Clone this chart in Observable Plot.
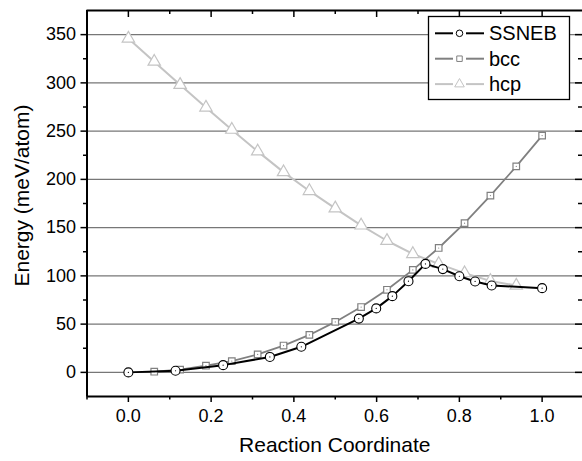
<!DOCTYPE html>
<html>
<head>
<meta charset="utf-8">
<script src="https://cdn.jsdelivr.net/npm/d3@7"></script>
<script src="https://cdn.jsdelivr.net/npm/@observablehq/plot@0.6"></script>
<style>
  html, body { margin: 0; padding: 0; background: #fff; }
  #chart { position: relative; width: 582px; height: 461px; }
</style>
</head>
<body>
<div id="chart"></div>
<script>
// ---- data ----
const ssnebX = [0, 0.114, 0.229, 0.342, 0.418, 0.557, 0.599, 0.638, 0.677, 0.718, 0.76, 0.80, 0.838, 0.878, 1.0];
const ssnebY = [0, 1.7, 7.5, 16, 26.5, 55.7, 66.3, 79, 94.5, 112.4, 107, 99.6, 94.2, 90, 87.3];

const bccX = [0.0625, 0.125, 0.1875, 0.25, 0.3125, 0.375, 0.4375, 0.5, 0.5625, 0.625, 0.6875, 0.75, 0.8125, 0.875, 0.9375, 1.0];
const bccY = [0.7, 2.8, 6.9, 11.7, 18.6, 27.8, 38.8, 52.3, 67.7, 85.6, 106.2, 128.9, 154.6, 183.2, 213.4, 245.4];

const hcpX = [0, 0.0625, 0.125, 0.1875, 0.25, 0.3125, 0.375, 0.4375, 0.5, 0.5625, 0.625, 0.6875, 0.75, 0.8125, 0.875, 0.9375];
const hcpY = [346, 322, 298, 274.5, 251.5, 229, 207.5, 188, 170, 152.3, 136.4, 122.7, 112.4, 102.8, 94.8, 90];

const seriesNames = ["SSNEB", "bcc", "hcp"];
const yTicks = [0, 50, 100, 150, 200, 250, 300, 350];
const yMinorTicks = [25, 75, 125, 175, 225, 275, 325];
const xTicks = [0.0, 0.2, 0.4, 0.6, 0.8, 1.0];
const xMinorTicks = [-0.1, 0.1, 0.3, 0.5, 0.7, 0.9, 1.1];
const xLabel = "Reaction Coordinate";
const yLabel = "Energy (meV/atom)";

// ---- build tables ----
const toRows = (xs, ys) => xs.map((x, i) => ({x, y: ys[i]}));
const ssneb = toRows(ssnebX, ssnebY);
const bcc = toRows(bccX, bccY);
const hcp = toRows(hcpX, hcpY);

const colors = {SSNEB: "#000000", bcc: "#808080", hcp: "#c4c4c4"};
const W = 582, H = 461, mL = 86.5, mR = 0, mT = 10, mB = 65;
const fw = W - mL - mR, fh = H - mT - mB;
const font = "'Liberation Sans', Arial, sans-serif";

const chart = Plot.plot({
  width: W, height: H,
  marginLeft: mL, marginRight: mR, marginTop: mT, marginBottom: mB,
  x: {domain: [-0.1, 1.1], range: [mL, 583]},
  y: {domain: [-25, 375]},
  style: {fontFamily: font, fontSize: "18px", color: "#000", background: "#fff", overflow: "visible"},
  marks: [
    Plot.ruleY(yTicks, {stroke: "#777", strokeWidth: 1.4}),
    // outward left ticks & labels
    Plot.axisY({ticks: yTicks, tickSize: 6, tickPadding: 5, fontSize: 18, label: null, strokeWidth: 1.5}),
    Plot.axisY({ticks: yMinorTicks, tickSize: 3.5, tickFormat: () => "", label: null, strokeWidth: 1.5}),
    // outward bottom ticks & labels
    Plot.axisX({ticks: xTicks, tickSize: 6, tickPadding: 7, fontSize: 18, tickFormat: d3.format(".1f"), label: null, strokeWidth: 1.5}),
    Plot.axisX({ticks: xMinorTicks, tickSize: 3.5, tickFormat: () => "", label: null, strokeWidth: 1.5}),
    // inward right ticks
    Plot.tickY(yTicks, {y: d => d, insetLeft: fw - 7, stroke: "#000", strokeWidth: 1.5}),
    Plot.tickY(yMinorTicks, {y: d => d, insetLeft: fw - 4, stroke: "#000", strokeWidth: 1.5}),
    // inward top ticks
    Plot.tickX(xTicks, {x: d => d, insetBottom: fh - 7, stroke: "#000", strokeWidth: 1.5}),
    Plot.tickX(xMinorTicks, {x: d => d, insetBottom: fh - 4, stroke: "#000", strokeWidth: 1.5}),
    // frame
    Plot.ruleX([-0.1], {stroke: "#000", strokeWidth: 2}),
    Plot.ruleY([-25, 375], {stroke: "#000", strokeWidth: 2}),
    // hcp
    Plot.line(hcp, {x: "x", y: "y", stroke: colors.hcp, strokeWidth: 2}),
    Plot.dot(hcp, {x: "x", y: "y", symbol: "triangle", r: 4.6, fill: "#fff", stroke: colors.hcp, strokeWidth: 1.2}),
    // bcc
    Plot.line(bcc, {x: "x", y: "y", stroke: colors.bcc, strokeWidth: 1.8}),
    Plot.dot(bcc, {x: "x", y: "y", symbol: "square", r: 3.7, fill: "#fff", stroke: colors.bcc, strokeWidth: 1.2}),
    Plot.dot(bcc, {x: "x", y: "y", r: 0.6, fill: colors.bcc, stroke: null}),
    // SSNEB
    Plot.line(ssneb, {x: "x", y: "y", stroke: colors.SSNEB, strokeWidth: 2}),
    Plot.dot(ssneb, {x: "x", y: "y", symbol: "circle", r: 4.5, fill: "#fff", stroke: colors.SSNEB, strokeWidth: 1.1}),
    Plot.dot(ssneb, {x: "x", y: "y", r: 0.6, fill: colors.SSNEB, stroke: null}),
    // axis titles
    Plot.text([xLabel], {frameAnchor: "bottom", dy: 49, fontSize: 21, lineAnchor: "middle", fill: "#000"}),
    Plot.text([yLabel], {frameAnchor: "left", rotate: -90, dx: -64.5, dy: -8, fontSize: 21, textAnchor: "middle", fill: "#000"})
  ]
});
document.getElementById("chart").appendChild(chart);

// ---- legend (drawn inside the plot area, top-right) ----
const svg = d3.select(chart);
const lg = svg.append("g").attr("font-family", font).attr("text-anchor", "start");
lg.append("rect").attr("x", 428.5).attr("y", 16.5).attr("width", 141).attr("height", 83)
  .attr("fill", "#fff").attr("stroke", "#000").attr("stroke-width", 1.3);
const symbols = {SSNEB: d3.symbolCircle, bcc: d3.symbolSquare, hcp: d3.symbolTriangle};
const symSize = {SSNEB: 34, bcc: 30, hcp: 40};
seriesNames.forEach((name, i) => {
  const cy = 33.3 + i * 25.4;
  const c = colors[name];
  lg.append("line").attr("x1", 435).attr("x2", 453).attr("y1", cy).attr("y2", cy).attr("stroke", c).attr("stroke-width", 2);
  lg.append("line").attr("x1", 466).attr("x2", 484).attr("y1", cy).attr("y2", cy).attr("stroke", c).attr("stroke-width", 2);
  lg.append("path").attr("d", d3.symbol(symbols[name], symSize[name])())
    .attr("transform", `translate(459.5,${cy})`).attr("fill", "#fff").attr("stroke", c).attr("stroke-width", 1);
  lg.append("text").attr("x", 489).attr("y", cy).attr("dy", "0.35em").attr("font-size", 20)
    .attr("text-anchor", "start").attr("fill", "#000").text(name);
});
</script>
</body>
</html>
